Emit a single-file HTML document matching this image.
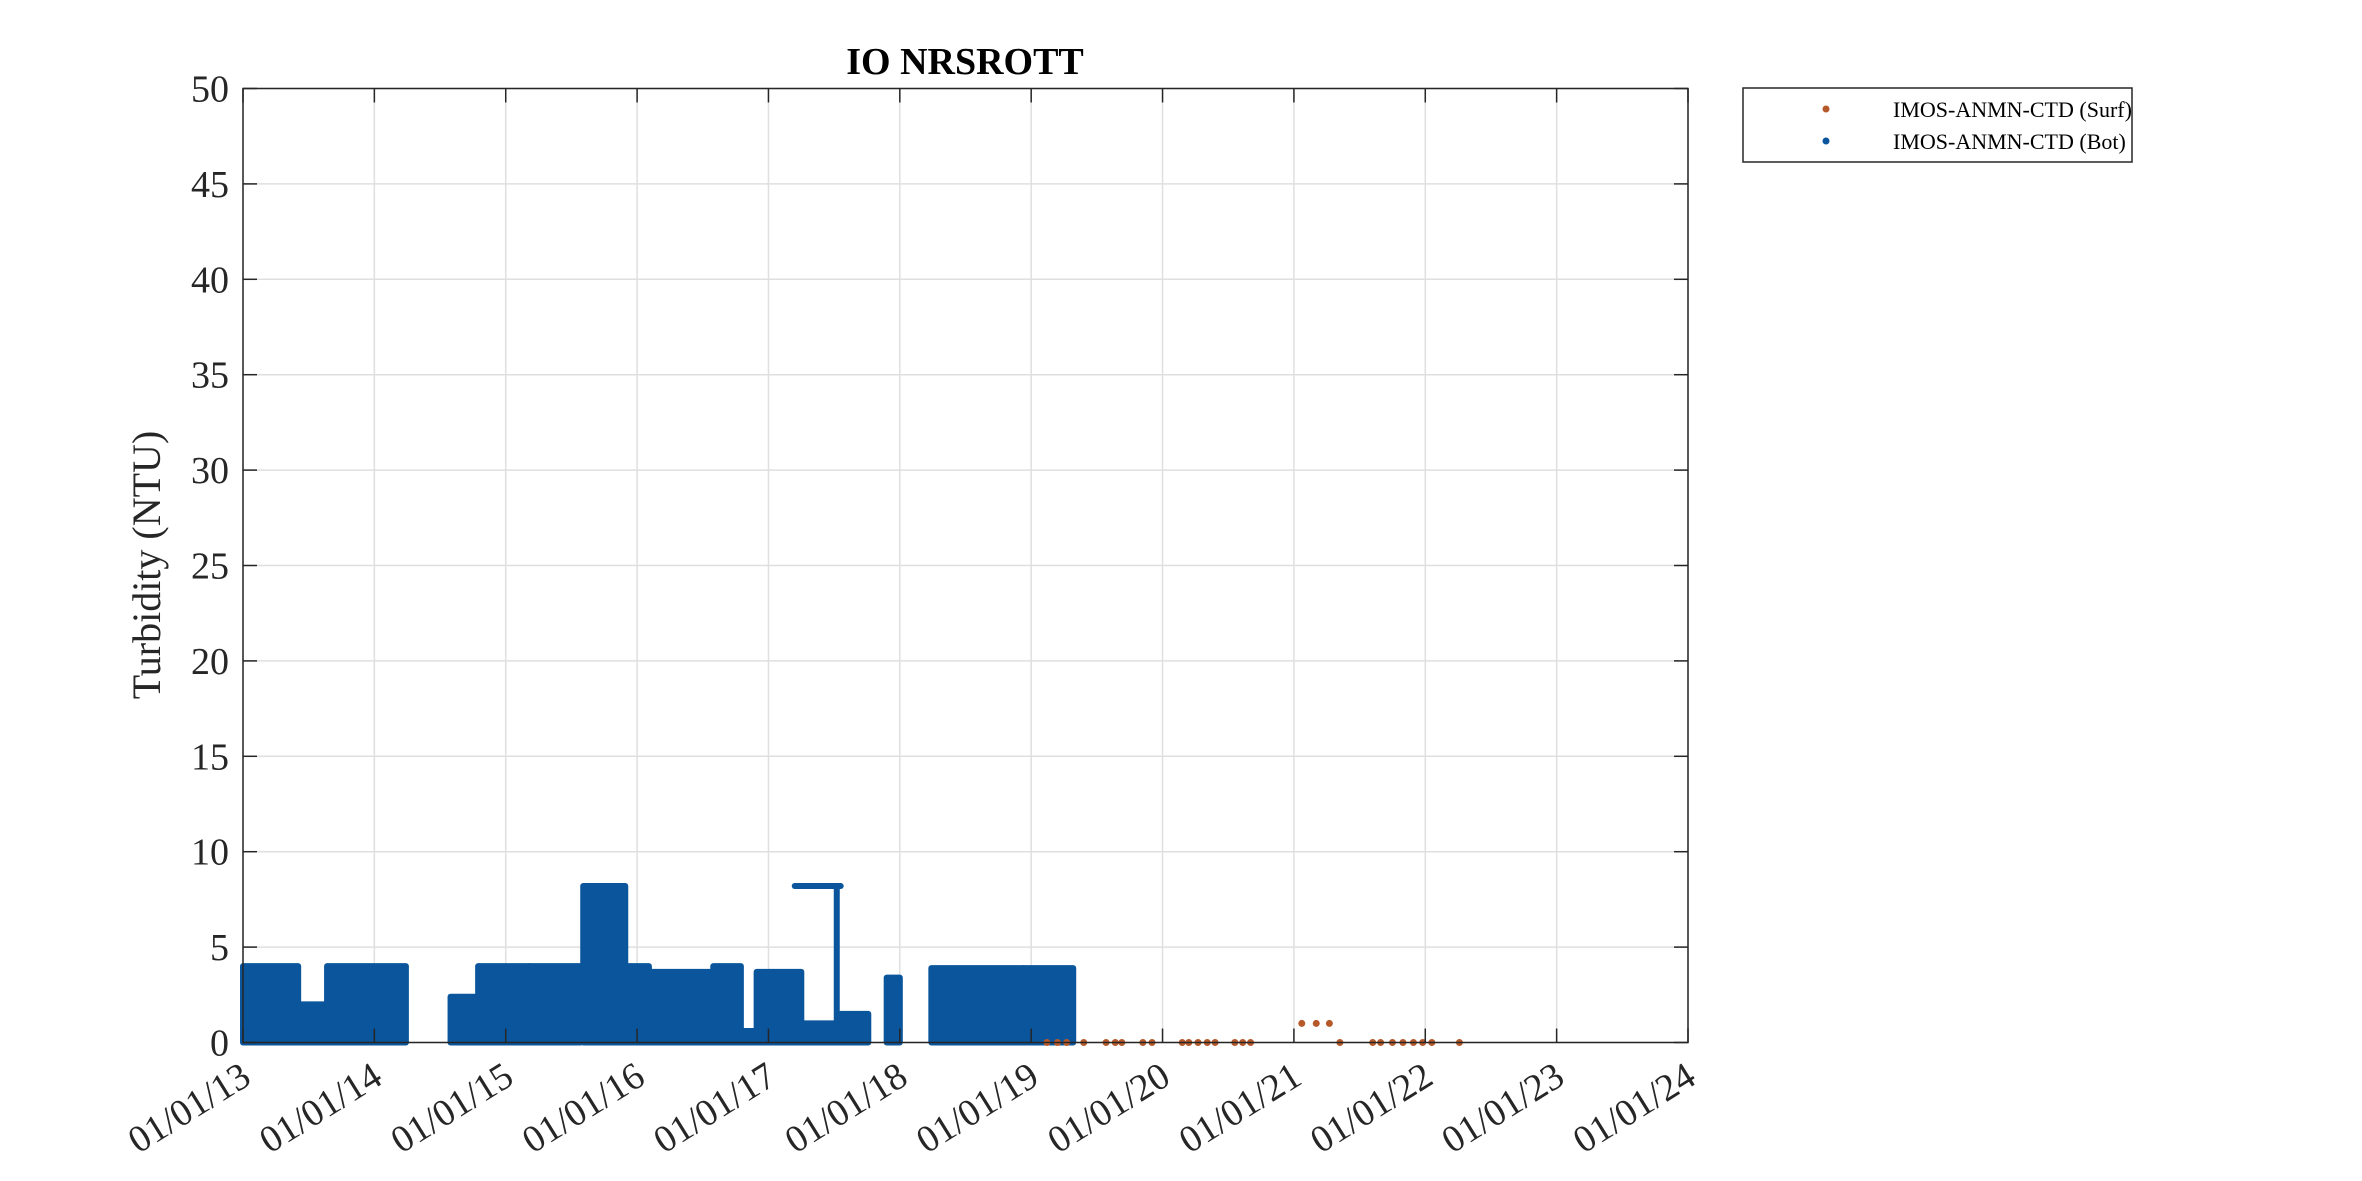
<!DOCTYPE html>
<html><head><meta charset="utf-8"><style>
html,body{margin:0;padding:0;background:#fff}
svg{display:block;font-family:"Liberation Serif",serif}
</style></head><body>
<svg id="chart" width="2362" height="1181" viewBox="0 0 2362 1181">
<rect width="2362" height="1181" fill="#fff"/>
<g id="grid"></g>
<g id="marks"></g>
<rect x="243" y="88.5" width="1445" height="954" fill="none" stroke="#262626" stroke-width="1.5"/>
<g id="axes"></g>
<text x="965" y="74" text-anchor="middle" font-size="38" font-weight="bold" fill="#000">IO NRSROTT</text>
<text transform="translate(160,565) rotate(-90)" text-anchor="middle" font-size="40" fill="#262626">Turbidity (NTU)</text>
<g>
<rect x="1743" y="88" width="389" height="74" fill="#fff" stroke="#262626" stroke-width="1.5"/>
<circle cx="1826" cy="109" r="3.5" fill="#b5592a"/>
<text x="1893" y="117" font-size="22" fill="#000">IMOS-ANMN-CTD (Surf)</text>
<circle cx="1826" cy="141" r="3.5" fill="#0a559c"/>
<text x="1893" y="149" font-size="22" fill="#000">IMOS-ANMN-CTD (Bot)</text>
</g>
</svg>
<script>
const yTicks=[0,5,10,15,20,25,30,35,40,45,50];
const xTickYears=[2013,2014,2015,2016,2017,2018,2019,2020,2021,2022,2023,2024];
const xTickLabels=["01/01/13","01/01/14","01/01/15","01/01/16","01/01/17","01/01/18","01/01/19","01/01/20","01/01/21","01/01/22","01/01/23","01/01/24"];
// Bottom sensor: segments (decimal year start/end) with max turbidity
const botStart=[2013.0,2013.43,2013.64,2014.58,2014.79,2015.18,2015.59,2015.91,2016.09,2016.58,2016.79,2016.91,2017.21,2017.55,2017.9,2018.24,2018.94];
const botEnd=[2013.42,2013.64,2014.24,2014.79,2015.18,2015.57,2015.91,2016.09,2016.58,2016.79,2016.9,2017.25,2017.56,2017.76,2018.0,2018.94,2019.32];
const botMax=[4.0,2.0,4.0,2.4,4.0,4.0,8.2,4.0,3.7,4.0,0.6,3.7,1.0,1.5,3.4,3.9,3.9];
// Flat-top plateau in 2017 (sensor saturation)
const plateauStart=[2017.2];
const plateauEnd=[2017.55];
const plateauVal=[8.2];
const plateauDrop=[2017.52];
// Surface sensor points
const surfYears=[2019.12,2019.2,2019.27,2019.4,2019.57,2019.64,2019.69,2019.85,2019.92,2020.15,2020.2,2020.27,2020.34,2020.4,2020.55,2020.61,2020.67,2021.06,2021.17,2021.27,2021.35,2021.6,2021.66,2021.75,2021.83,2021.91,2021.98,2022.05,2022.26];
const surfVals=[0,0,0,0,0,0,0,0,0,0,0,0,0,0,0,0,0,1.0,1.0,1.0,0,0,0,0,0,0,0,0,0];

const L=243,R=1688,T=88.5,B=1042.5;
const xs=y=>L+(y-2013)/(2024-2013)*(R-L);
const ys=v=>B-v/50*(B-T);
const NS="http://www.w3.org/2000/svg";
function mk(tag,attrs,parent){const e=document.createElementNS(NS,tag);for(const k in attrs)e.setAttribute(k,attrs[k]);parent.appendChild(e);return e;}
const grid=document.getElementById('grid'),axes=document.getElementById('axes'),marks=document.getElementById('marks');
yTicks.forEach(v=>{
 const g=mk('line',{x1:L,x2:R,y1:ys(v),y2:ys(v),stroke:'#dfdfdf','stroke-width':1.5},grid);
 
 
 mk('line',{x1:L,x2:L+14,y1:ys(v),y2:ys(v),stroke:'#262626','stroke-width':1.5},axes);
 mk('line',{x1:R,x2:R-14,y1:ys(v),y2:ys(v),stroke:'#262626','stroke-width':1.5},axes);
 const t=mk('text',{x:L-14,y:ys(v)+13,'text-anchor':'end','font-size':38,fill:'#262626'},axes);
 t.textContent=v;
 
 
});
xTickYears.forEach((yr,i)=>{
 const x=xs(yr);
 const g=mk('line',{x1:x,x2:x,y1:T,y2:B,stroke:'#dfdfdf','stroke-width':1.5},grid);
 
 
 mk('line',{x1:x,x2:x,y1:B,y2:B-14,stroke:'#262626','stroke-width':1.5},axes);
 mk('line',{x1:x,x2:x,y1:T,y2:T+14,stroke:'#262626','stroke-width':1.5},axes);
 const t=mk('text',{transform:`translate(${x+10},${B+40}) rotate(-32)`,'text-anchor':'end','font-size':38,fill:'#262626'},axes);
 t.textContent=xTickLabels[i];
 
 
});
const blue='#0a559c',orange='#b5592a';
botStart.forEach((s,i)=>{
 const x1=xs(s),x2=xs(botEnd[i]);
 const r=mk('rect',{x:x1-3,y:ys(botMax[i])-3,width:x2-x1+6,height:ys(0)-ys(botMax[i])+6,rx:3,fill:blue},marks);
 
 
});
plateauStart.forEach((s,i)=>{
 const r=mk('rect',{x:xs(s)-3,y:ys(plateauVal[i])-3,width:xs(plateauEnd[i])-xs(s)+6,height:6,rx:3,fill:blue},marks);
 
 
 const d=mk('rect',{x:xs(plateauDrop[i])-3,y:ys(plateauVal[i])-3,width:6,height:ys(0)-ys(plateauVal[i])+6,fill:blue},marks);
 
 
});
surfYears.forEach((yr,i)=>{
 const c=mk('circle',{cx:xs(yr),cy:ys(surfVals[i]),r:3.5,fill:orange},marks);
 
 
});
</script>
</body></html>
